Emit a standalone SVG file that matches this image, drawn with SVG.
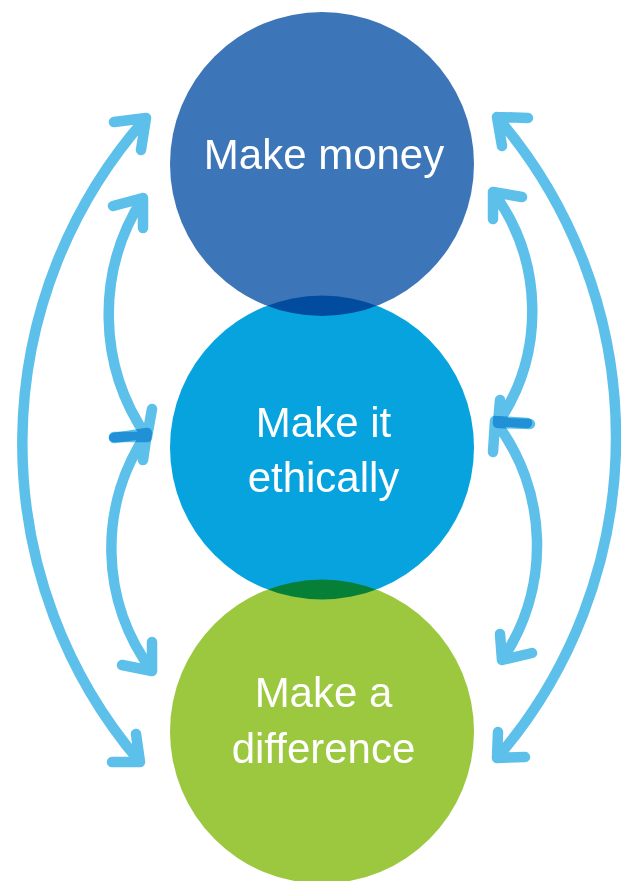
<svg xmlns="http://www.w3.org/2000/svg" width="621" height="881" viewBox="0 0 621 881">
<style>
.node { mix-blend-mode: multiply; }
.lbl { font-family: "Liberation Sans", Arial, sans-serif; font-size: 42px; fill: #ffffff; text-anchor: middle; }
.arrow { fill: none; stroke: #5CC0EA; stroke-width: 10.5; stroke-linecap: round; stroke-linejoin: round; mix-blend-mode: multiply; }
</style>
<rect x="0" y="0" width="621" height="881" fill="#ffffff"/>
<g id="node-money">
<circle class="node" cx="322" cy="164" r="152" fill="#3D76B8"/>
<text class="lbl" x="324" y="169">Make money</text>
</g>
<g id="node-ethically">
<circle class="node" cx="322" cy="447.5" r="152" fill="#07A3DE"/>
<text class="lbl" x="323.5" y="437">Make it</text>
<text class="lbl" x="323.5" y="492">ethically</text>
</g>
<g id="node-difference">
<circle class="node" cx="322" cy="731.5" r="152" fill="#9BC83E"/>
<text class="lbl" x="323.5" y="707">Make a</text>
<text class="lbl" x="323.5" y="763">difference</text>
</g>
<g id="connectors">
<path id="left-outer" class="arrow" d="M146,118 A490,490 0 0 0 140,762 M114,122 L146,118 L141,150 M136,734 L140,762 L112,762"/>
<path id="left-inner-top" class="arrow" d="M143,198 A215,215 0 0 0 147,437 M113,206 L143,198 L143,228 M152,409 L147,437 L114,437"/>
<path id="left-inner-bottom" class="arrow" d="M147,433 A205,205 0 0 0 152,671 M114,438 L147,433 L143,460 M152,642 L152,671 L122,665"/>
<path id="right-outer" class="arrow" d="M497,117 A491,491 0 0 1 497,758 M528,118 L497,117 L502,146 M498,732 L497,758 L525,757"/>
<path id="right-inner-top" class="arrow" d="M493,192 A200,200 0 0 1 498,423 M522,197 L493,192 L493,219 M500,400 L498,423 L530,424"/>
<path id="right-inner-bottom" class="arrow" d="M495,421 A205,205 0 0 1 502,660 M527,423 L495,421 L493,452 M500,634 L502,660 L532,653"/>
</g>
</svg>
